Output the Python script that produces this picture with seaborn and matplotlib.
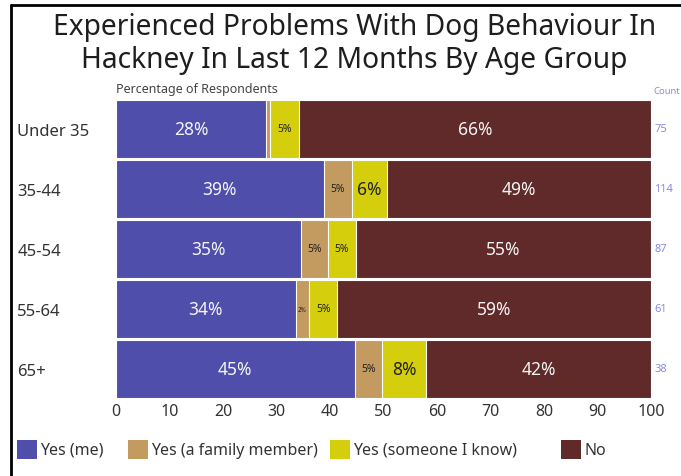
import matplotlib
matplotlib.use("Agg")
import matplotlib.pyplot as plt
from matplotlib.patches import Rectangle
from matplotlib.lines import Line2D
import numpy as np
import pandas as pd
import seaborn as sns

# ---- data ----
age_groups = ["Under 35", "35-44", "45-54", "55-64", "65+"]
series_names = ["Yes (me)", "Yes (a family member)", "Yes (someone I know)", "No"]
yes_me = [28.0, 38.8, 34.6, 33.6, 44.6]
yes_family = [0.8, 5.4, 5.0, 2.5, 5.2]
yes_someone = [5.4, 6.4, 5.2, 5.3, 8.1]
no = [65.8, 49.4, 55.2, 58.6, 42.1]
counts = [75, 114, 87, 61, 38]
x_ticks = [0, 10, 20, 30, 40, 50, 60, 70, 80, 90, 100]

colors = ["#4f4eab", "#c39b60", "#d5ce0c", "#5f2a29"]
label_colors = ["#f4f4f4", "#222222", "#222222", "#f4f4f4"]

sns.set_theme(style="white")
FONT = ["Noto Sans", "DejaVu Sans"]
plt.rcParams["font.family"] = FONT

df = pd.DataFrame({"age": age_groups, series_names[0]: yes_me, series_names[1]: yes_family,
                   series_names[2]: yes_someone, series_names[3]: no})
cum = df[series_names].cumsum(axis=1)

fig = plt.figure(figsize=(6.81, 4.77), dpi=100)
ax = fig.add_axes([116 / 681, 1 - 400 / 477, 535 / 681, 300 / 477])

# stacked bars: draw cumulative totals from the last series back to the first
for i in reversed(range(len(series_names))):
    sns.barplot(data=cum.assign(age=age_groups), x=series_names[i], y="age", orient="h",
                color=colors[i], saturation=1, width=0.975, edgecolor="white",
                linewidth=0.8, ax=ax, order=age_groups)

# segment labels
for r in range(len(age_groups)):
    left = 0.0
    for i, name in enumerate(series_names):
        v = df[name].iloc[r]
        if v >= 2:
            size = 12.5 if v >= 6 else (7.5 if v >= 4 else 4.5)
            ax.text(left + v / 2, r, f"{round(v):.0f}%", ha="center", va="center",
                    color=label_colors[i], fontsize=size)
        left += v

ax.set_xlim(0, 100)
ax.set_ylim(len(age_groups) - 0.5, -0.5)
ax.set_xticks(x_ticks)
ax.set_xticklabels([str(t) for t in x_ticks], fontsize=11.5, color="#333333")
ax.set_yticks(range(len(age_groups)))
ax.set_yticklabels(age_groups, fontsize=12, color="#333333", ha="left")
ax.tick_params(axis="y", length=0, pad=71)
ax.tick_params(axis="x", length=0, pad=3)
ax.set_xlabel("")
ax.set_ylabel("")
for s in ax.spines.values():
    s.set_visible(False)

ax.text(0, 1.012, "Percentage of Respondents", transform=ax.transAxes, ha="left",
        va="bottom", fontsize=9, color="#444444")
ax.text(1.005, 1.012, "Count", transform=ax.transAxes, ha="left", va="bottom",
        fontsize=6.8, color="#8a8ae0", clip_on=False)
for r, c in enumerate(counts):
    ax.text(1.006, r, str(c), transform=ax.get_yaxis_transform(), ha="left", va="center",
            fontsize=8, color="#8a8ae0", clip_on=False)

fig.text(0.52, 1 - 13 / 477,
         "Experienced Problems With Dog Behaviour In\nHackney In Last 12 Months By Age Group",
         ha="center", va="top", fontsize=20.3, color="#1e1e1e", linespacing=1.2)

# legend
leg_sq_x = [17, 128, 330, 561]
for i, name in enumerate(series_names):
    fig.add_artist(Rectangle((leg_sq_x[i] / 681, 1 - 460 / 477), 20 / 681, 19 / 477,
                             transform=fig.transFigure, facecolor=colors[i], edgecolor="none"))
    fig.text((leg_sq_x[i] + 23) / 681, 1 - 451 / 477, name, ha="left", va="center",
             fontsize=11.5, color="#333333")

# frame (top and left edges)
fig.add_artist(Line2D([11 / 681, 11 / 681], [0, 1 - 6 / 477], transform=fig.transFigure,
                      color="black", linewidth=2))
fig.add_artist(Line2D([11 / 681, 1], [1 - 6 / 477, 1 - 6 / 477], transform=fig.transFigure,
                      color="black", linewidth=2))

fig.savefig("out.png", dpi=100)
